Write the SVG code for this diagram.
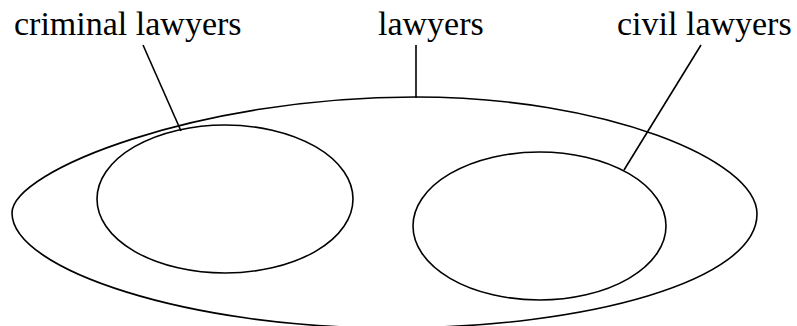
<svg xmlns="http://www.w3.org/2000/svg" width="797" height="326" viewBox="0 0 797 326">
<style>
.shape{fill:none;stroke:#000;stroke-width:1.6}
.conn{fill:none;stroke:#000;stroke-width:1.6}
text{font-family:"Liberation Serif","Times New Roman",serif;font-size:34px;fill:#000}
</style>
<rect width="797" height="326" fill="#fff"/>
<g id="lawyers">
<path class="shape" d="M12,213 C12,170 200,97 415,97 C605,97 757,160 757,214 C757,280 590,328 390,328 C190,328 12,270 12,213 Z"/>
<text x="378" y="35">lawyers</text>
</g>
<g id="criminal-lawyers">
<ellipse class="shape" cx="225" cy="199" rx="128" ry="74"/>
<text x="14" y="35">criminal lawyers</text>
</g>
<g id="civil-lawyers">
<ellipse class="shape" cx="539.5" cy="226" rx="126.5" ry="74"/>
<text x="617" y="35">civil lawyers</text>
</g>
<g id="connectors">
<line class="conn" x1="143" y1="45" x2="181" y2="131"/>
<line class="conn" x1="416" y1="45" x2="416" y2="98"/>
<line class="conn" x1="701" y1="45" x2="624" y2="170"/>
</g>
</svg>
